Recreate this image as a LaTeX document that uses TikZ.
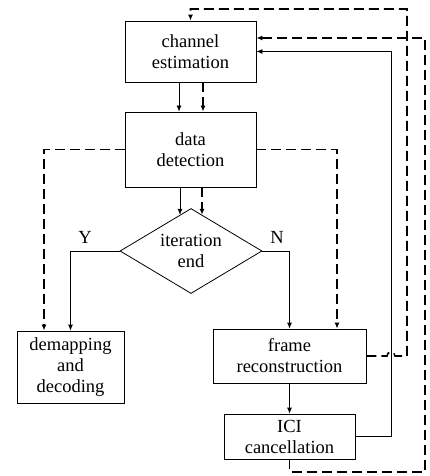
\documentclass[tikz,border=0pt]{standalone}
\usepackage{fontspec}
\setmainfont{Liberation Serif}
\usetikzlibrary{arrows.meta,shapes.geometric,calc}
\begin{document}
\begin{tikzpicture}[x=1pt,y=-1pt,
  box/.style={draw,line width=0.8pt,rectangle,inner sep=0pt,align=center,font=\fontsize{18.5}{21}\selectfont},
  dia/.style={draw,line width=0.8pt,diamond,inner sep=0pt,align=center,font=\fontsize{18.5}{21}\selectfont},
  lbl/.style={font=\fontsize{18.5}{21}\selectfont,inner sep=0pt},
  sol/.style={line width=0.8pt},
  dsh/.style={line width=1.6pt,dash pattern=on 10pt off 5pt},
  tip/.style={-{Latex[length=6pt,width=5pt]}}]
\useasboundingbox (0,0) rectangle (429,476);
\node[box,minimum width=131pt,minimum height=61pt] (ce) at (190.5,51.5) {channel\\estimation};
\node[box,minimum width=131pt,minimum height=75pt] (dd) at (190.5,149.5) {data\\detection};
\node[dia,minimum width=142pt,minimum height=85pt,aspect=1.67] (ie) at (191,251) {iteration\\end};
\node[box,minimum width=107pt,minimum height=72pt] (dm) at (70.5,367) {demapping\\and\\decoding};
\node[box,minimum width=153pt,minimum height=54pt] (fr) at (289.5,356) {frame\\reconstruction};
\node[box,minimum width=131pt,minimum height=45pt] (ici) at (289.5,436.5) {ICI\\cancellation};
\node[lbl] (y) at (85,237) {Y};
\node[lbl] (n) at (277,237) {N};
% ce -> dd
\draw[sol,tip] ([xshift=-11.5pt]ce.south) -- ([xshift=-11.5pt]dd.north);
\draw[dsh,tip] ([xshift=12.5pt]ce.south) -- ([xshift=12.5pt]dd.north);
% dd -> ie
\draw[sol,tip] ([xshift=-10.5pt]dd.south) -- ($(ie.north)+(-11,6.7)$);
\draw[dsh,tip] ([xshift=11.5pt]dd.south) -- ($(ie.north)+(11,6.7)$);
% branches
\draw[sol,tip] (ie.west) -| (dm.north);
\draw[sol,tip] (ie.east) -| (fr.north);
\draw[dsh,tip] (dd.west) -| ([xshift=-26.5pt]dm.north);
\draw[dsh,tip] (dd.east) -| ([xshift=47.5pt]fr.north);
\draw[sol,tip] (fr.south) -- (ici.north);
% feedbacks
\coordinate (sx) at (391,0);
\coordinate (dx) at (407,9);
\coordinate (ox) at (425,472);
\draw[sol,tip] (ici.east) -| (sx |- ce.east) -- (ce.east);
\draw[dsh,tip] (fr.east) -- (387,356) arc[start angle=180,end angle=0,radius=4pt] -- (dx |- fr.east) -- (dx) -| (ce.north);
\draw[dsh,tip] (ici.south) |- (ox) |- ([yshift=13.5pt]ce.east);
\end{tikzpicture}
\end{document}
